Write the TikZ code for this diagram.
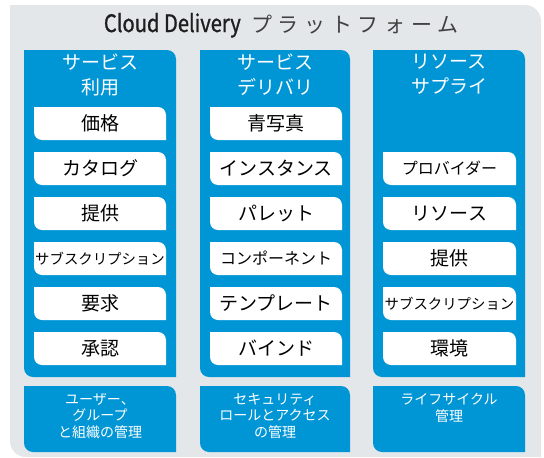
\documentclass[tikz,border=0pt]{standalone}
\usepackage{fontspec}
\setmainfont{Noto Sans CJK JP}
\definecolor{hpblue}{HTML}{0096D6}
\definecolor{bggray}{HTML}{E4E7E9}
\definecolor{titlecol}{HTML}{1E1E1E}
\newcommand{\cornerbox}[6]{%
  \fill[#6] ({#1},{-(#2)}) -- ({(#3)-(#5)},{-(#2)}) arc[start angle=90,end angle=0,radius=#5]
    -- ({#3},{-(#4)}) -- ({(#1)+(#5)},{-(#4)}) arc[start angle=270,end angle=180,radius=#5] -- cycle;}
\begin{document}
\begin{tikzpicture}[x=1pt,y=1pt,
  boxtext/.style={font=\fontsize{19}{20}\selectfont, text=black, inner sep=0pt},
  smalltext/.style={font=\fontsize{14.4}{16}\selectfont, text=black, inner sep=0pt},
  midtext/.style={font=\fontsize{16}{17}\selectfont, text=black, inner sep=0pt},
  paneltitle/.style={font=\fontsize{19}{24.5}\selectfont, text=white, align=center, inner sep=0pt, anchor=north},
  foottext/.style={font=\fontsize{14}{16.5}\selectfont, text=white, align=center, inner sep=0pt, anchor=north}]
\useasboundingbox (0,0) rectangle (544,-458);
% background
\cornerbox{10}{5}{541}{457}{16}{bggray}
% title
\node[font=\fontsize{24}{24}\selectfont\addfontfeatures{FakeStretch=0.84,FakeBold=1}, text=titlecol, anchor=base east, inner sep=0pt] (titleA) at (241,-32) {Cloud Delivery};
\node[font=\fontsize{21}{24}\selectfont\addfontfeatures{LetterSpace=27}, text=titlecol!85, anchor=base west, inner sep=0pt] (titleB) at (251,-32) {プラットフォーム};
% panels
\cornerbox{24}{50}{176}{377}{9}{hpblue}
\cornerbox{200}{50}{350}{377}{9}{hpblue}
\cornerbox{373}{50}{525}{377}{9}{hpblue}
% footer boxes
\cornerbox{24}{386}{176}{452}{9}{hpblue}
\cornerbox{200}{386}{350}{452}{9}{hpblue}
\cornerbox{373}{386}{525}{452}{9}{hpblue}
% white boxes
\foreach \k in {0,...,5}{
  \cornerbox{34}{107+45*\k}{166}{140+45*\k}{8}{white}
  \cornerbox{210}{107+45*\k}{342}{140+45*\k}{8}{white}
}
\foreach \k in {1,...,5}{
  \cornerbox{383}{107+45*\k}{516}{140+45*\k}{8}{white}
}
% panel titles
\node[paneltitle] (t1) at (100,-54) {サービス\\利用};
\node[paneltitle] (t2) at (275,-54) {サービス\\デリバリ};
\node[paneltitle] (t3) at (449,-54) {リソース\\サプライ};
% left column
\node[boxtext] (l1) at (100,-123.5) {価格};
\node[boxtext] (l2) at (100,-168.5) {カタログ};
\node[boxtext] (l3) at (100,-213.5) {提供};
\node[smalltext] (l4) at (100,-258.5) {サブスクリプション};
\node[boxtext] (l5) at (100,-303.5) {要求};
\node[boxtext] (l6) at (100,-348.5) {承認};
% middle column
\node[boxtext] (m1) at (276,-123.5) {青写真};
\node[boxtext] (m2) at (276,-168.5) {インスタンス};
\node[boxtext] (m3) at (276,-213.5) {パレット};
\node[midtext] (m4) at (276,-258.5) {コンポーネント};
\node[boxtext] (m5) at (276,-303.5) {テンプレート};
\node[boxtext] (m6) at (276,-348.5) {バインド};
% right column
\node[midtext] (r1) at (449.5,-168.5) {プロバイダー};
\node[boxtext] (r2) at (449.5,-213.5) {リソース};
\node[boxtext] (r3) at (449.5,-258.5) {提供};
\node[smalltext] (r4) at (449.5,-303.5) {サブスクリプション};
\node[boxtext] (r5) at (449.5,-348.5) {環境};
% footers
\node[foottext] (f1) at (100,-393) {ユーザー、\\グループ\\と組織の管理};
\node[foottext] (f2) at (275,-393) {セキュリティ\\ロールとアクセス\\の管理};
\node[foottext] (f3) at (449,-393) {ライフサイクル\\管理};
\end{tikzpicture}
\end{document}
